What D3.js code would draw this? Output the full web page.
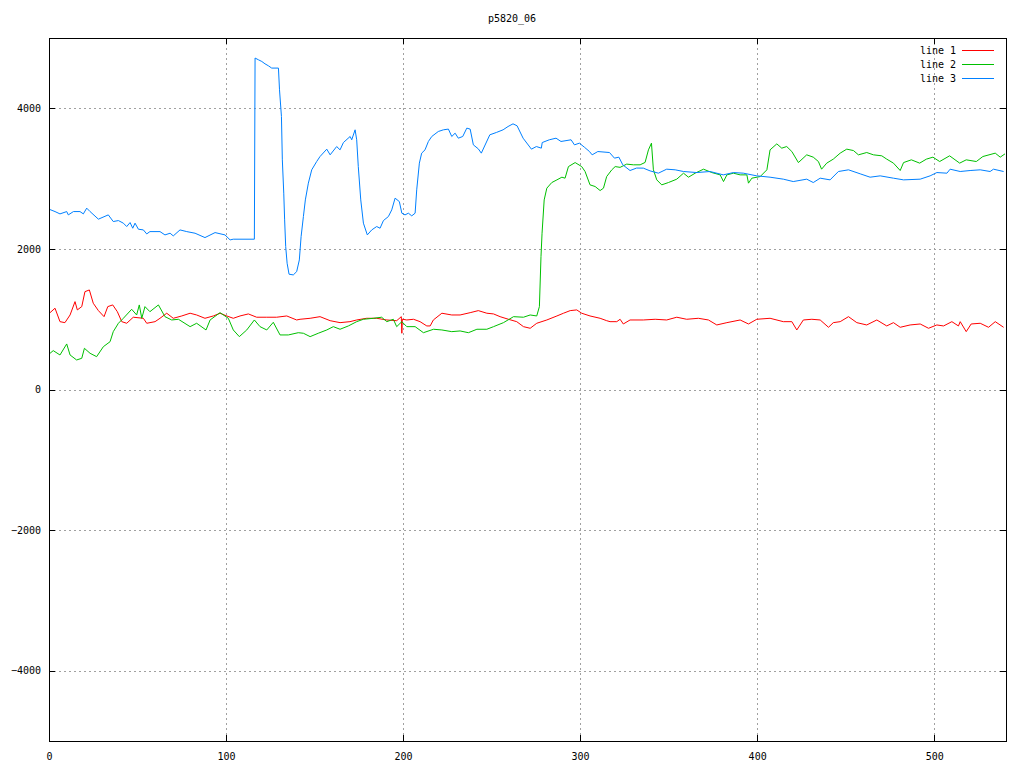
<!DOCTYPE html>
<html>
<head>
<meta charset="utf-8">
<script src="https://cdn.jsdelivr.net/npm/d3@7"></script>
<style>
html,body{margin:0;padding:0;background:#fff;}
svg{display:block;}
text{font-family:"DejaVu Sans Mono",monospace;font-size:10px;fill:#000;}
</style>
</head>
<body>
<svg id="chart" width="1024" height="768"></svg>
<script>
const title = "p5820_06";
const seriesNames = ["line 1", "line 2", "line 3"];
const seriesColors = ["#ff0000", "#00c000", "#0080ff"];
const xTicks = [0, 100, 200, 300, 400, 500];
const yTicks = [-4000, -2000, 0, 2000, 4000];
const xDomain = [0, 540];
const yDomain = [-5000, 5000];

// line 1 (red)
const line1X = [0.6,3.4,6.2,9,11.9,14.7,16,18.5,20.3,22.8,25,27.9,31.1,33.2,36,38.6,41.1,43.9,47.6,53.3,55.2,59.9,62.7,66.5,70.2,75,79.7,83.4,88.1,92.8,96.6,100.4,104.1,107.9,112.6,117.3,123,128.6,134.3,139.9,141.8,147.5,153.1,158.8,164.4,170,173.8,179.4,185.1,190.8,196.4,199,199.3,199.6,202.1,205.9,209.6,213.4,215.3,217.1,221.9,227.5,232.2,237.9,242.5,247.3,251.1,254.8,259.5,264.2,268,271.8,275.5,281.2,286.9,290.6,294.4,298.1,300.9,305.6,311.3,315,316.9,320.7,322.6,324.4,328.2,335.7,342.4,348.9,354.6,360.2,366.8,372.5,377.2,382.9,390.4,395.1,399.8,407.3,414.8,419.6,422.4,426.1,430.9,435.6,440.3,443,446.9,451.6,456.3,461.9,467.6,473.2,477,480.8,486.4,492.1,496.8,501.5,505.3,510,513.7,514.7,518.1,520.9,526,530.7,534.5,539.2];
const line1Y = [1093,1156,965,951,1060,1250,1132,1179,1392,1416,1227,1122,1036,1179,1203,1107,965,942,1028,1013,942,965,1013,1085,1013,1046,1085,1060,1013,1046,1085,1046,1013,1046,1075,1028,1028,1028,1046,989,999,1013,1036,979,951,965,989,1013,1013,989,979,1036,800,1000,989,999,965,904,904,989,1085,1060,1060,1093,1122,1085,1075,1036,999,965,894,871,942,989,1046,1085,1122,1132,1085,1046,1013,979,965,965,999,932,989,989,999,989,1028,999,1013,989,918,951,989,932,999,1013,965,965,847,989,999,989,885,951,965,1036,951,918,989,904,951,885,918,932,871,918,904,965,904,965,823,932,942,885,965,885];

// line 2 (green)
const line2X = [0.6,2.4,6.2,10,11.9,15.6,18.5,20,23.2,26.9,30.7,34.5,36.3,39.2,42,46.7,49.5,51,52.4,54.2,57,61.8,65.5,69.3,73.1,79.7,83.4,88.7,91,96.6,101.3,104.1,107.5,111.7,116,119.2,123,126.7,130.5,135.2,140.8,143.7,147.5,152.1,156.9,160.6,164.4,169.1,173.8,177.6,183.2,187.9,190.8,194.5,196.4,199.3,202.1,206.8,211.5,217.2,221.9,227.5,232.2,236.9,241.7,247.3,251.1,256.7,262.4,268,271.8,275.5,277,277.9,278.5,279.7,281.2,284,286.9,289.7,291.5,293.4,297.2,300.9,302.8,305.6,308.5,311.3,313.2,315,317.9,319.8,322.6,326.3,330.1,333.9,336.7,338.6,340.3,341.4,343.3,346.1,349.9,354.6,358.4,361.2,365,369.7,374.4,379.1,381,382.9,386.6,390.4,394.2,395.1,397,401.7,405.5,407.3,411.1,413.9,416.7,419.6,423.3,428,431.7,434.6,436.4,439.3,443,446.9,450.6,454.4,457.2,461.9,465.7,470.4,473.2,477,480.8,482.7,487.1,491.8,495.6,499.3,503.1,508.7,514.4,518.1,523.8,527.5,534.5,537.3,540];
const line2Y = [515,553,491,648,491,420,444,586,515,467,609,680,823,942,1013,1141,1060,1203,1013,1179,1107,1203,1036,989,999,894,942,847,989,1093,1013,847,752,847,989,894,847,956,776,776,808,800,752,800,847,894,857,904,965,999,1013,1028,965,999,894,965,894,894,808,857,847,823,833,808,857,857,894,951,1036,1028,1060,1046,1179,1890,2223,2697,2864,2944,2982,3020,3006,3171,3228,3171,3101,2911,2887,2830,2864,3029,3125,3171,3160,3206,3196,3196,3230,3409,3504,3125,2982,2911,2944,2992,3077,3020,3077,3134,3086,3053,2958,3053,3077,3053,3053,2935,3006,3029,3125,3409,3494,3433,3456,3385,3228,3338,3305,3243,3134,3220,3277,3362,3419,3399,3338,3371,3338,3324,3277,3220,3115,3228,3267,3220,3277,3305,3243,3324,3220,3267,3243,3314,3362,3305,3352];

// line 3 (blue)
const line3X = [0,3.4,6.2,10,10.9,13.8,17.5,19.4,21.3,23.2,27.9,33.5,36.3,39.2,42,43.9,45.8,47.3,48.6,50.5,53.3,55.2,57,62.7,65.5,68.4,70.2,74,77.8,82.5,88.1,93.8,99.4,102.3,104.1,116,116.4,118.3,120.2,122,123.9,125.8,129.6,130.2,131.3,131.8,132.6,133.1,133.7,134.5,135.6,138,139.9,141.4,142.4,143.7,144.8,146.5,148.4,151.2,153.1,156.9,158.8,162.5,164.4,166.3,170.1,171,172.9,173.8,174.7,176.1,177.6,179.8,182.3,185.1,187,188.9,191.7,193.6,195.5,197.9,199.3,201.1,203,204.9,206.8,207.7,209.2,210.5,212.4,214.3,216.2,219.9,222.8,225.6,227.5,229.4,231.2,233.7,236,237.9,239.7,242.5,244.2,249,252.7,256.5,259.3,262.1,264.4,267.8,272.5,275.3,278.1,278.6,282.6,286.4,289.2,294.9,296.8,299.6,302.4,305.3,306.8,310,316.6,319.4,321.9,324.1,328.2,331.9,335.7,339.5,344.2,348.9,353.7,358.4,365.9,373.4,380.9,386.6,392.2,399.8,407.3,414.8,420.4,428,431.7,435.6,441.2,445.9,451.6,458.2,463.8,469.5,477,482.7,492.1,497.7,501.5,507.2,509,514.7,520.3,526,531.6,533.5,539.2];
const line3Y = [2565,2531,2498,2531,2484,2531,2531,2498,2580,2531,2423,2484,2389,2403,2366,2318,2375,2294,2366,2280,2270,2213,2246,2246,2199,2223,2185,2270,2246,2223,2161,2232,2199,2128,2138,2138,4715,4690,4666,4633,4605,4572,4572,4263,3883,3267,2793,2413,2033,1796,1640,1630,1677,1843,2175,2460,2697,2935,3125,3243,3314,3419,3338,3456,3409,3513,3599,3552,3694,3552,3171,2697,2366,2199,2270,2318,2294,2403,2460,2555,2722,2673,2508,2484,2508,2470,2508,2840,3220,3362,3409,3528,3599,3670,3694,3704,3599,3646,3575,3599,3718,3704,3480,3423,3362,3623,3656,3694,3741,3779,3751,3575,3419,3456,3433,3513,3552,3575,3528,3552,3480,3504,3447,3385,3338,3385,3371,3291,3305,3196,3115,3150,3149,3110,3077,3134,3125,3101,3086,3101,3053,3086,3077,3039,3020,2992,2958,2992,2944,3006,2982,3101,3125,3068,3020,3039,3006,2982,2992,3039,3086,3077,3134,3101,3115,3125,3101,3134,3101];

const seriesX = [line1X, line2X, line3X];
const seriesY = [line1Y, line2Y, line3Y];

const svg = d3.select("#chart");
const L = 49, T = 38, R = 1006, B = 741;
const x = d3.scaleLinear().domain(xDomain).range([L, R - 1]);
const y = d3.scaleLinear().domain(yDomain).range([B, T]);

svg.append("rect").attr("width", 1024).attr("height", 768).attr("fill", "#fff");

// grid
const grid = svg.append("g").attr("shape-rendering", "crispEdges")
  .attr("stroke", "#a0a0a0").attr("stroke-dasharray", "2,3").attr("stroke-width", 1);
xTicks.filter(d => d !== 0).forEach(d => {
  grid.append("line").attr("x1", Math.round(x(d)) + 0.5).attr("x2", Math.round(x(d)) + 0.5)
    .attr("y1", T).attr("y2", B);
});
yTicks.forEach(d => {
  grid.append("line").attr("y1", Math.round(y(d)) + 0.5).attr("y2", Math.round(y(d)) + 0.5)
    .attr("x1", L).attr("x2", R);
});

// axes via d3 axis (ticks inward, mirrored)
const tickLen = 6;
const axB = d3.axisBottom(x).tickValues(xTicks).tickSize(-tickLen).tickPadding(12).tickFormat(d3.format("d"));
const axT = d3.axisTop(x).tickValues(xTicks).tickSize(-tickLen).tickFormat("");
const axL = d3.axisLeft(y).tickValues(yTicks).tickSize(-tickLen).tickPadding(8).tickFormat(d => d < 0 ? "\u2212" + Math.abs(d) : d);
const axR = d3.axisRight(y).tickValues(yTicks).tickSize(-tickLen).tickFormat("");

function styleAxis(g) {
  g.attr("shape-rendering", "crispEdges");
  g.select(".domain").remove();
  g.selectAll(".tick line").attr("stroke", "#000");
  g.selectAll(".tick text").style("font-family", "'DejaVu Sans Mono', monospace").style("font-size", "10px").attr("fill", "#000");
}
svg.append("g").attr("transform", `translate(0,${B})`).call(axB).call(styleAxis);
svg.append("g").attr("transform", `translate(0,${T})`).call(axT).call(styleAxis);
svg.append("g").attr("transform", `translate(${L},0)`).call(axL).call(styleAxis);
svg.append("g").attr("transform", `translate(${R},0)`).call(axR).call(styleAxis);

// lines
const lineGen = d3.line().x(d => x(d[0])).y(d => y(d[1]));
seriesNames.forEach((name, i) => {
  const pts = seriesX[i].map((xv, j) => [xv, seriesY[i][j]]);
  svg.append("path").datum(pts).attr("d", lineGen)
    .attr("fill", "none").attr("stroke", seriesColors[i]).attr("stroke-width", 1)
    .attr("stroke-linejoin", "miter");
});

// border
svg.append("rect").attr("x", L + 0.5).attr("y", T + 0.5).attr("width", R - L).attr("height", B - T)
  .attr("fill", "none").attr("stroke", "#000").attr("stroke-width", 1).attr("shape-rendering", "crispEdges");

// title
svg.append("text").attr("x", 512).attr("y", 22).attr("text-anchor", "middle").text(title);

// legend
const leg = svg.append("g");
seriesNames.forEach((name, i) => {
  const ly = 50 + i * 14;
  leg.append("text").attr("x", 956).attr("y", ly + 4).attr("text-anchor", "end").text(name);
  leg.append("line").attr("x1", 962).attr("x2", 994).attr("y1", ly + 0.5).attr("y2", ly + 0.5)
    .attr("stroke", seriesColors[i]).attr("stroke-width", 1).attr("shape-rendering", "crispEdges");
});
</script>
</body>
</html>
